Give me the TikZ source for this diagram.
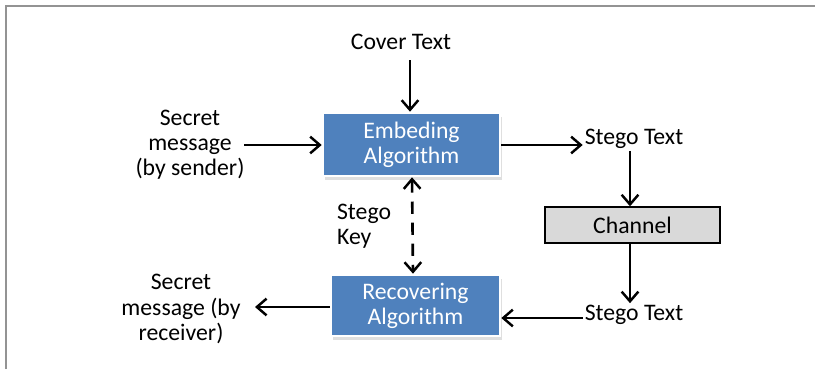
\documentclass[tikz,border=0pt]{standalone}
\usepackage{fontspec}
\setmainfont{Carlito}
\usetikzlibrary{arrows.meta,positioning,shadows}

\tikzset{
  algbox/.style={rectangle, fill={rgb,255:red,79;green,129;blue,189}, draw=white, line width=1.5pt,
    text=white, align=center, minimum width=3.54cm, minimum height=1.26cm, inner sep=0pt,
    drop shadow={opacity=0.25, shadow xshift=1pt, shadow yshift=-2pt}},
  chanbox/.style={rectangle, fill={rgb,255:red,217;green,217;blue,217}, draw=black, line width=0.8pt,
    minimum width=3.5cm, minimum height=0.72cm, inner sep=0pt},
  lbl/.style={align=center, inner sep=1pt},
  tip/.style={Straight Barb[length=5.5pt,width=9.5pt,line width=1.4pt]},
  flow/.style={-{Straight Barb[length=5.5pt,width=9.5pt,line width=1.4pt]}, line width=1.5pt},
}

\begin{document}
\begin{tikzpicture}[x=0.02cm, y=-0.02cm, font=\fontsize{13.5}{14.3}\selectfont]
        \useasboundingbox (0,0) rectangle (815,369);
        \draw[gray!85, line width=1.4pt] (6,369) -- (6,6) -- (815,6);

        \node[algbox] (E) at (411.5,144.5) {Embeding\\Algorithm};
        \node[algbox, minimum width=3.38cm, minimum height=1.22cm] (R) at (415.5,305.5) {Recovering\\Algorithm};
        \node[chanbox] (C) at (632.5,225) {Channel};

        \node[lbl] (cover) at (401,42) {Cover Text};
        \node[lbl] (sender) at (190,145) {Secret\\message\\(by sender)};
        \node[lbl] (receiver) at (181,309) {Secret\\message (by\\receiver)};
        \node[lbl] (st1) at (634,139) {Stego Text};
        \node[lbl] (st2) at (634,315) {Stego Text};
        \node[lbl, align=left, anchor=west] (key) at (335,226) {Stego\\Key};

        \coordinate (covend) at (410,60);
        \coordinate (sendend) at (244,145);
        \coordinate (recend) at (255,307);

        \draw[flow] (covend) -- (E.north -| covend);
        \draw[flow] (sendend) -- (E.west |- sendend);
        \draw[flow] (E.east |- 0,145) -- (st1.west |- 0,145);
        \draw[flow] (st1.south -| 630,0) -- (C.north -| 630,0);
        \draw[flow] (C.south -| 630,0) -- (st2.north -| 630,0);
        \draw[flow] (st2.west |- 0,318) -- (R.east |- 0,318);
        \draw[flow] (R.west |- recend) -- (recend);
        \draw[flow, {Straight Barb[length=5.5pt,width=9.5pt,line width=1.4pt]}-{Straight Barb[length=5.5pt,width=9.5pt,line width=1.4pt]}, dash pattern=on 7pt off 5pt]
          (E.south -| 412,0) -- (R.north -| 413,0);
      \end{tikzpicture}
\end{document}
